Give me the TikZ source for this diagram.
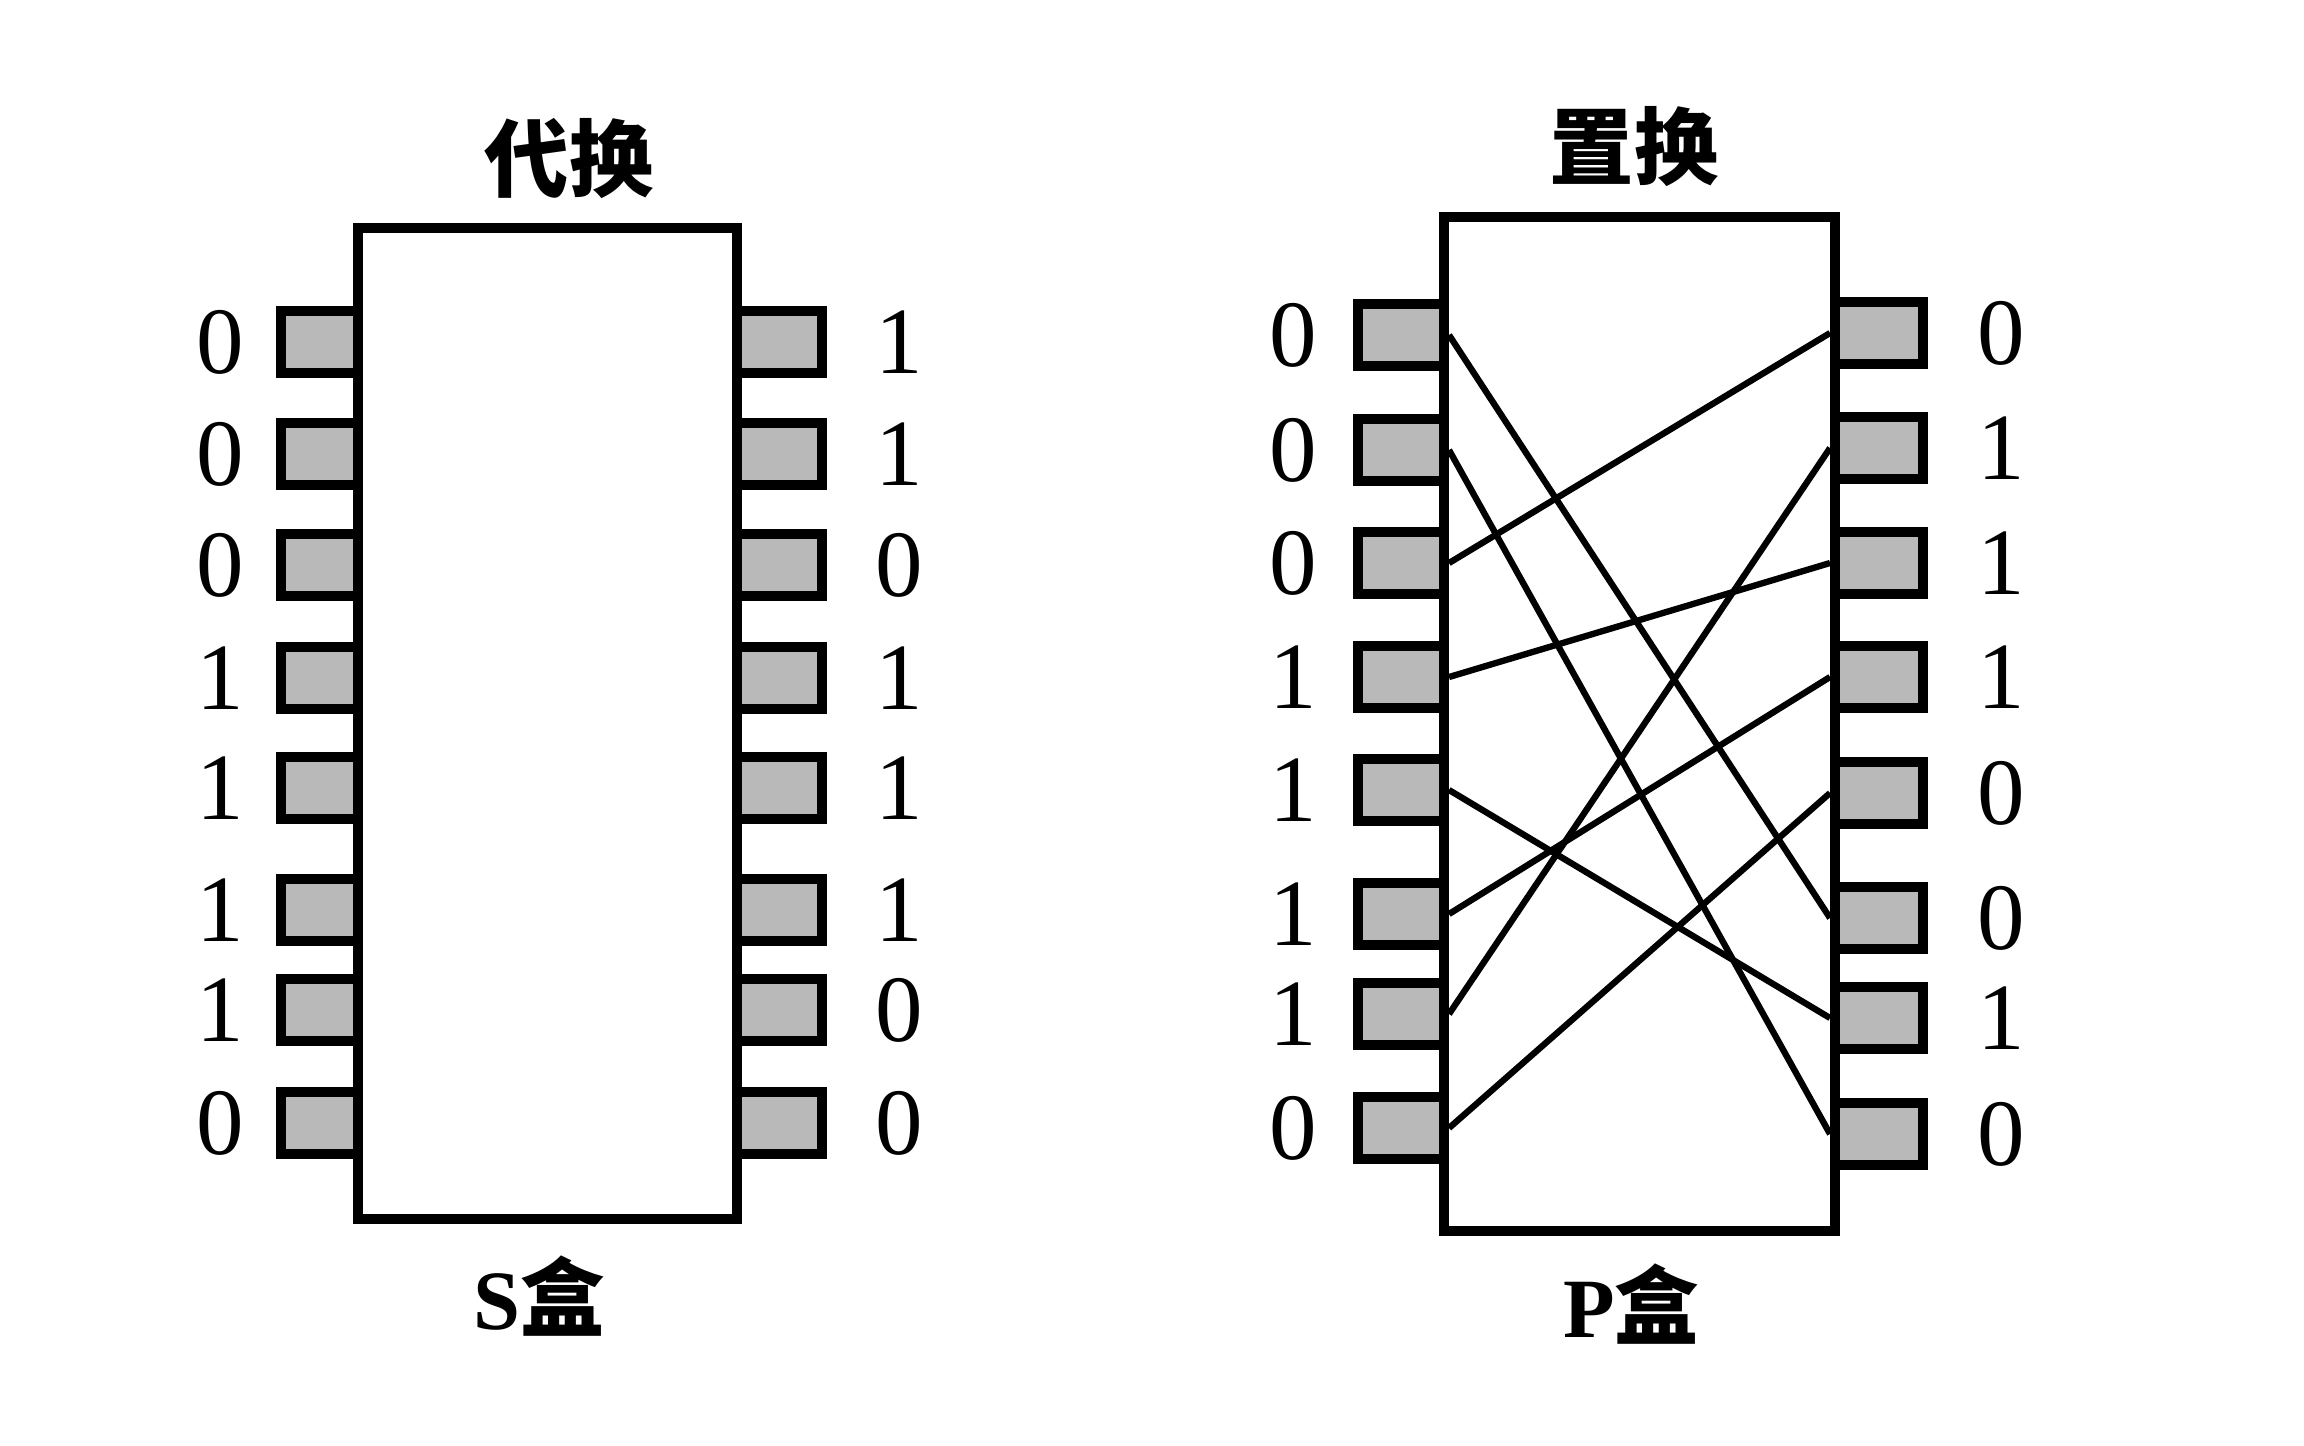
\documentclass[tikz,border=0pt]{standalone}
\usepackage{fontspec}
\setmainfont{Liberation Serif}
\newfontfamily\cjk{Noto Sans CJK SC}
\begin{document}
\begin{tikzpicture}[x=0.01cm,y=-0.01cm,
  boxframe/.style={draw=black,line width=2.6pt,fill=white},
  pinbox/.style={draw=black,line width=3pt,fill=gray!55},
  wire/.style={line width=1.8pt},
  bit/.style={font=\fontsize{27}{27}\selectfont},
  title/.style={font=\cjk\bfseries\fontsize{24}{24}\selectfont},
  boxlabel/.style={font=\bfseries\fontsize{24}{24}\selectfont}]
\useasboundingbox (0,0) rectangle (2304,1445);
% ---------- S box ----------
\draw[boxframe] (358,228) rectangle (737,1219);
\foreach \y/\a/\b [count=\i] in {342/0/1,454/0/1,565/0/0,678/1/1,788/1/1,910/1/1,1010/1/0,1123/0/0}{
  \draw[pinbox] (281,\y-31) rectangle (358,\y+31);
  \draw[pinbox] (737,\y-31) rectangle (822,\y+31);
  \node[bit] (sl\i) at (220,\y) {\a};
  \node[bit] (sr\i) at (899,\y) {\b};
}
\node[title] (t1) at (569,159) {代换};
\node[boxlabel] (s1) at (539,1296) {S{\cjk\bfseries 盒}};
% ---------- P box ----------
\draw[boxframe] (1444,217) rectangle (1835,1231);
\foreach \y/\a [count=\i] in {335/0,450/0,563/0,677/1,790/1,914/1,1014/1,1128/0}{
  \draw[pinbox] (1358,\y-31) rectangle (1444,\y+31);
  \coordinate (pl\i) at (1449,\y);
  \node[bit] (plt\i) at (1293,\y) {\a};
}
\foreach \y/\b [count=\i] in {333/0,448/1,563/1,677/1,793/0,918/0,1018/1,1134/0}{
  \draw[pinbox] (1835,\y-31) rectangle (1923,\y+31);
  \coordinate (pr\i) at (1830,\y);
  \node[bit] (prt\i) at (2001,\y) {\b};
}
\foreach \l/\r in {1/6,2/8,3/1,4/3,5/7,6/4,7/2,8/5}{
  \draw[wire] (pl\l) -- (pr\r);
}
\node[title] (t2) at (1634,147) {置换};
\node[boxlabel] (p1) at (1631,1304) {P{\cjk\bfseries 盒}};
\end{tikzpicture}
\end{document}
